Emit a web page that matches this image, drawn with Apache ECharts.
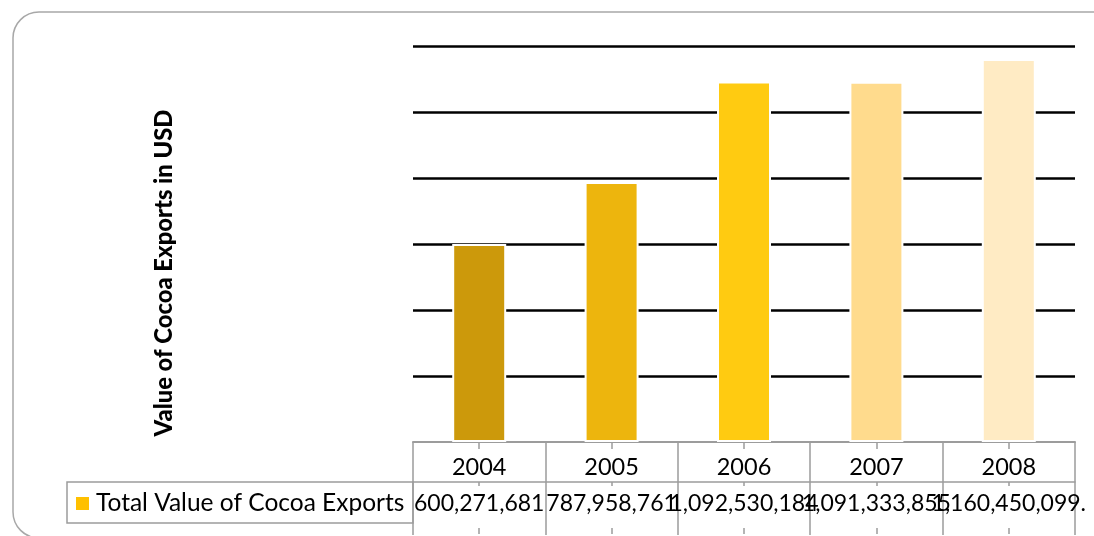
<!DOCTYPE html>
<html>
<head>
<meta charset="utf-8">
<title>Value of Cocoa Exports</title>
<script src="https://cdn.jsdelivr.net/npm/echarts@6/dist/echarts.min.js"></script>
<style>
  html, body { margin: 0; padding: 0; background: #ffffff; }
  #chart { width: 1094px; height: 536px; }
</style>
</head>
<body>
<div id="chart"></div>
<script>
// Export values per year (USD)
const years = ['2004', '2005', '2006', '2007', '2008'];
const exportValues = [600271681, 787958761, 1092530184, 1091333855, 1160450099];
// Text shown in the data table row under the axis
const tableLabels = ['600,271,681', '787,958,761', '1,092,530,184', '1,091,333,855', '1,160,450,099.'];
const barColors = ['#CC990B', '#EDB50D', '#FFCB11', '#FFDB8D', '#FFEBC4'];
const seriesName = 'Total Value of Cocoa Exports';
const axisTitle = 'Value of Cocoa Exports in USD';

const FONT = 'Lato, "Open Sans", sans-serif';
const GRAY = '#9c9c9c';

const chart = echarts.init(document.getElementById('chart'), null, { renderer: 'canvas' });

// Tick-only helper axes that repeat the category positions
function tickAxis(offset, length, inside) {
  return {
    type: 'category', data: years, position: 'bottom', offset: offset,
    axisLine: { show: false },
    axisTick: { show: true, alignWithLabel: true, interval: 0, inside: inside, length: length,
                lineStyle: { color: GRAY, width: 1.5 } },
    axisLabel: { show: false },
    splitLine: { show: false }
  };
}

chart.setOption({
  animation: false,
  backgroundColor: '#ffffff',
  grid: { left: 413, right: 19, top: 46, bottom: 94, containLabel: false },
  legend: {
    data: [seriesName],
    left: 76, top: 491, padding: 0,
    icon: 'rect', itemWidth: 13, itemHeight: 13,
    textStyle: { fontFamily: FONT, fontSize: 24.5, color: '#000', padding: [0, 0, 0, 2] }
  },
  xAxis: [
    {
      type: 'category', data: years, position: 'bottom',
      axisLine: { show: true, lineStyle: { color: GRAY, width: 2 } },
      axisTick: { show: true, alignWithLabel: false, interval: 0, length: 93,
                  lineStyle: { color: GRAY, width: 1.5 } },
      axisLabel: { interval: 0, margin: 13, fontFamily: FONT, fontSize: 23.5, color: '#000' },
      splitLine: { show: false }
    },
    {
      type: 'category', data: years, position: 'bottom', offset: 40,
      axisLine: { show: true, lineStyle: { color: GRAY, width: 1.5 } },
      axisTick: { show: true, alignWithLabel: true, interval: 0, length: 4,
                  lineStyle: { color: GRAY, width: 1.5 } },
      axisLabel: {
        interval: 0, margin: 10, fontFamily: FONT, fontSize: 23, color: '#000',
        formatter: (v, i) => tableLabels[i]
      },
      splitLine: { show: false }
    },
    tickAxis(0, 5, true),
    tickAxis(0, 7, false),
    tickAxis(86, 6, false)
  ],
  yAxis: {
    type: 'value', min: 0, max: 1200000000, interval: 200000000,
    axisLine: { show: false }, axisTick: { show: false }, axisLabel: { show: false },
    splitLine: { show: true, showMinLine: false, lineStyle: { color: '#000', width: 2.7 } }
  },
  series: [{
    name: seriesName,
    type: 'bar',
    xAxisIndex: 0,
    barWidth: 54,
    itemStyle: { color: '#FFC000' },
    data: exportValues.map((v, i) => ({
      value: v,
      itemStyle: { color: barColors[i], borderColor: '#ffffff', borderWidth: 2 }
    }))
  }],
  graphic: [
    {
      type: 'rect', silent: true, z: -1,
      shape: { x: 13, y: 12, width: 1110, height: 526, r: 26 },
      style: { fill: 'none', stroke: '#a8a8a8', lineWidth: 1.5 }
    },
    {
      type: 'rect', silent: true,
      shape: { x: 67, y: 482, width: 346, height: 41 },
      style: { fill: 'none', stroke: GRAY, lineWidth: 1.5 }
    },
    {
      type: 'text', silent: true,
      x: 164, y: 273, rotation: Math.PI / 2,
      style: {
        text: axisTitle, fontFamily: FONT, fontWeight: 900, fontSize: 23.8,
        fill: '#000', align: 'center', verticalAlign: 'middle'
      }
    }
  ]
});
</script>
</body>
</html>
